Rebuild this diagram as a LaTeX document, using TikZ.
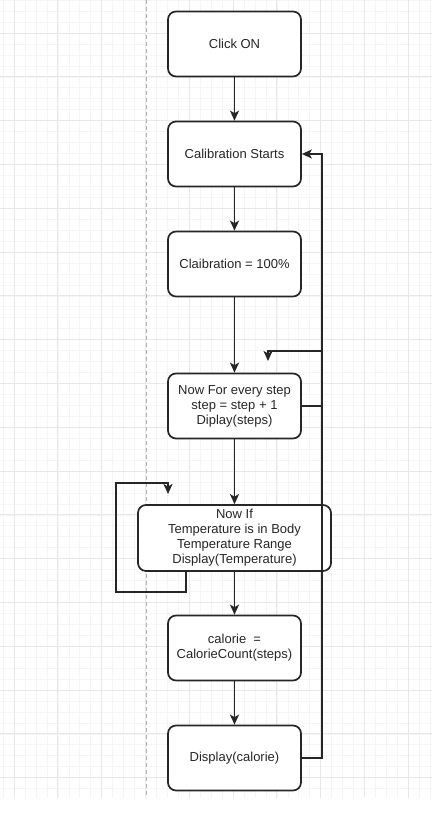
\documentclass[tikz,border=0pt]{standalone}
\usepackage{fontspec}
\setmainfont{Liberation Sans}
\usetikzlibrary{arrows.meta}

\begin{document}
\begin{tikzpicture}[x=1pt,y=1pt,->,>={Stealth[length=10pt,width=9pt,inset=2.5pt]},line width=1.6pt,draw=black!85,auto,node distance=110pt,
        main node/.style={rectangle,rounded corners=8pt,draw,fill=white,line width=1.7pt,minimum width=133pt,minimum height=65pt,inner sep=2pt,align=center,font=\fontsize{13}{15}\selectfont,text=black!85},
        minor grid/.style={-,line width=0.5pt,draw=black!4},
        major grid/.style={-,line width=0.7pt,draw=black!9}]
            \useasboundingbox (0,0) rectangle (432,827);
            % background grid
            \begin{scope}
                \clip (0,29) rectangle (432,827);
                \foreach \i in {-2,...,38}
                    \draw[minor grid] ({14+10.95*\i},29) -- ({14+10.95*\i},827);
                \foreach \i in {-3,...,70}
                    \draw[minor grid] (0,{794-10.95*\i}) -- (432,{794-10.95*\i});
                \foreach \i in {0,...,9}
                    \draw[major grid] ({14+43.8*\i},29) -- ({14+43.8*\i},827);
                \foreach \i in {-1,...,18}
                    \draw[major grid] (0,{794-43.8*\i}) -- (432,{794-43.8*\i});
            \end{scope}
            \draw[-,black!30,line width=1pt,dash pattern=on 4pt off 3pt] (146,827) -- (146,29);

            \node[main node] (1) at (234.5,783) {Click ON};
            \node[main node] (2) [below of = 1] {Calibration Starts};
            \node[main node] (3) [below of = 2] {Claibration = 100\%};
            \node[main node] (4) [below of = 3, yshift = -32pt] {Now For every step\\step = step + 1\\Diplay(steps)};
            \node[main node, minimum width=193pt, minimum height=66pt] (5) [below of = 4, yshift = -22pt] {Now If\\Temperature is in Body\\Temperature Range\\Display(Temperature)};
            \node[main node] (6) [below of = 5] {calorie\ \ =\\CalorieCount(steps)};
            \node[main node] (7) [below of = 6] {Display(calorie)};

            \coordinate (r) at (322,0);
            \coordinate (s1) at (322,476);
            \coordinate (s2) at (268,476);
            \coordinate (s3) at (268,466);
            \coordinate (l1) at (186,235);
            \coordinate (l2) at (116,235);
            \coordinate (l3) at (116,344);
            \coordinate (l4) at (168,333);

            \path
                (1) edge (2)
                (2) edge (3)
                (3) edge (4)
                (4) edge (5)
                (5) edge (6)
                (6) edge (7)
                ;
            \draw (7.east) -- (7.east -| r) -- (2.east -| r) -- (2.east);
            \draw[-] (4.east) -- (4.east -| r);
            \draw (s1) -- (s2) -- (s3);
            \draw (5.south -| l1) -- (l1) -- (l2) -- (l3) -- (l3 -| l4) -- (l4);
        \end{tikzpicture}
\end{document}
